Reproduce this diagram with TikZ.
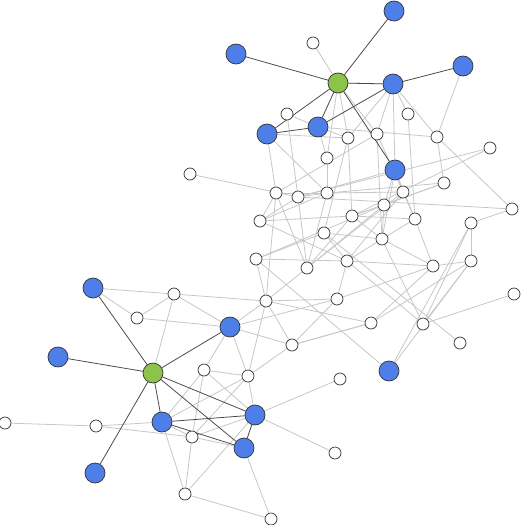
\documentclass[tikz,border=0pt]{standalone}
\usetikzlibrary{backgrounds}

\definecolor{hubgreen}{RGB}{141,195,74}
\definecolor{memberblue}{RGB}{78,127,232}

\begin{document}
\begin{tikzpicture}[
  x=1pt, y=-1pt,
  hub/.style={circle, fill=hubgreen, draw=black!80, line width=0.7pt, minimum size=20pt, inner sep=0pt},
  member/.style={circle, fill=memberblue, draw=black!80, line width=0.7pt, minimum size=20pt, inner sep=0pt},
  plain/.style={circle, fill=white, draw=black!80, line width=0.7pt, minimum size=12pt, inner sep=0pt},
  strong/.style={black!70, line width=0.8pt},
  weak/.style={black!22, line width=0.8pt}
]

  \useasboundingbox (0,0) rectangle (520,525);

  % hubs
  \node[hub] (g1) at (338,83) {};
  \node[hub] (g2) at (153,373) {};

  % blue members
  \foreach \n/\x/\y in {b1/394/11, b2/236/54, b3/463/66, b4/393/84, b5/267/134,
      b6/318/127, b7/395/170, b8/93/288, b9/230/327, b10/58/357, b11/389/371,
      b12/162/422, b13/255/415, b14/244/448, b15/95/473} {
    \node[member] (\n) at (\x,\y) {};
  }

  % plain nodes
  \foreach \n/\x/\y in {w1/313/43, w2/287/114, w3/408/114, w4/348/138, w5/377/134,
      w6/437/137, w7/327/158, w8/490/148, w9/190/174, w10/444/183, w11/276/193,
      w12/298/197, w13/327/193, w14/403/192, w15/384/205, w16/512/209, w17/260/221,
      w18/352/216, w19/415/219, w20/471/223, w21/324/233, w22/382/239, w23/256/259,
      w24/307/268, w25/347/261, w26/433/266, w27/471/261, w28/514/294, w29/174/294,
      w30/266/301, w31/337/299, w32/137/318, w33/371/323, w34/423/324, w35/460/343,
      w36/292/345, w37/204/370, w38/248/376, w39/340/379, w40/5/423, w41/96/426,
      w42/192/437, w43/335/453, w44/185/494, w45/271/519} {
    \node[plain] (\n) at (\x,\y) {};
  }

  \begin{scope}[on background layer]
    % light links
    \foreach \a/\b in {g1/w1, g1/w4, g1/w5, g1/w7, g1/b4, b4/w5, b4/w6, b4/w3, b4/w4,
        b4/b7, b3/w6, w6/w10, w6/w16, w3/w19, w8/w18, w8/w12, w16/w20, w16/w12,
        w20/w27, w27/w26, w27/w34, w34/w28, w20/w34, b11/w27, b11/w20, w21/w35,
        w33/w36, w30/w33, w33/w27, w33/w26, w31/w26, w25/w26, w25/w34, b6/w4, b6/w7,
        b6/w6, b6/w2, w2/w12, b5/w4, b5/w13, b5/w11, w4/w18, w4/w21, w7/w13, w5/w14,
        w5/w22, w5/w11, w9/w12, w11/w13, w12/w13, w13/w14, w13/w10, w11/w17, w11/w24,
        w11/w30, w12/w24, w13/w24, w18/w24, w15/w24, w14/w24, w17/w13, w17/w25,
        w17/w18, w23/w21, w23/w25, w23/w30, w23/w15, w30/w24, w30/w31, w30/b9,
        w30/w36, w30/w38, w29/w30, w21/w22, w21/w25, w22/w25, w22/w15, w22/w19,
        w19/w14, w19/w26, w10/w18, w10/w15, w25/w14, w18/w19, w18/w22, b7/w14,
        b7/w15, b7/w19, b7/w22, b7/w12, w31/w25, w31/w36, w31/b9, b9/w36, b9/w38,
        b9/w37, b9/w29, b9/w32, b8/w29, b8/w32, w29/w32, w29/g2, w36/w38, w36/w33,
        w37/w38, w37/b12, w37/w42, w37/b13, w38/b13, w38/w42, b13/w39, b13/w43,
        b13/w42, b12/w42, b12/w44, w42/w44, w44/b13, w44/w45, b14/w45, w40/w41,
        w41/b12, w41/w42, w42/b14, w34/w22, w12/w17, w22/w26, w23/b11, b12/w38} {
      \draw[weak] (\a) -- (\b);
    }
    % hub links
    \foreach \a/\b in {g1/b1, g1/b2, g1/b4, g1/b5, g1/b6, g1/b7, b3/b4, b4/b6, b5/b6,
        g2/b8, g2/b9, g2/b10, g2/b12, g2/b13, g2/b14, g2/b15, b12/b13, b12/b14,
        b13/b14} {
      \draw[strong] (\a) -- (\b);
    }
  \end{scope}

\end{tikzpicture}
\end{document}
